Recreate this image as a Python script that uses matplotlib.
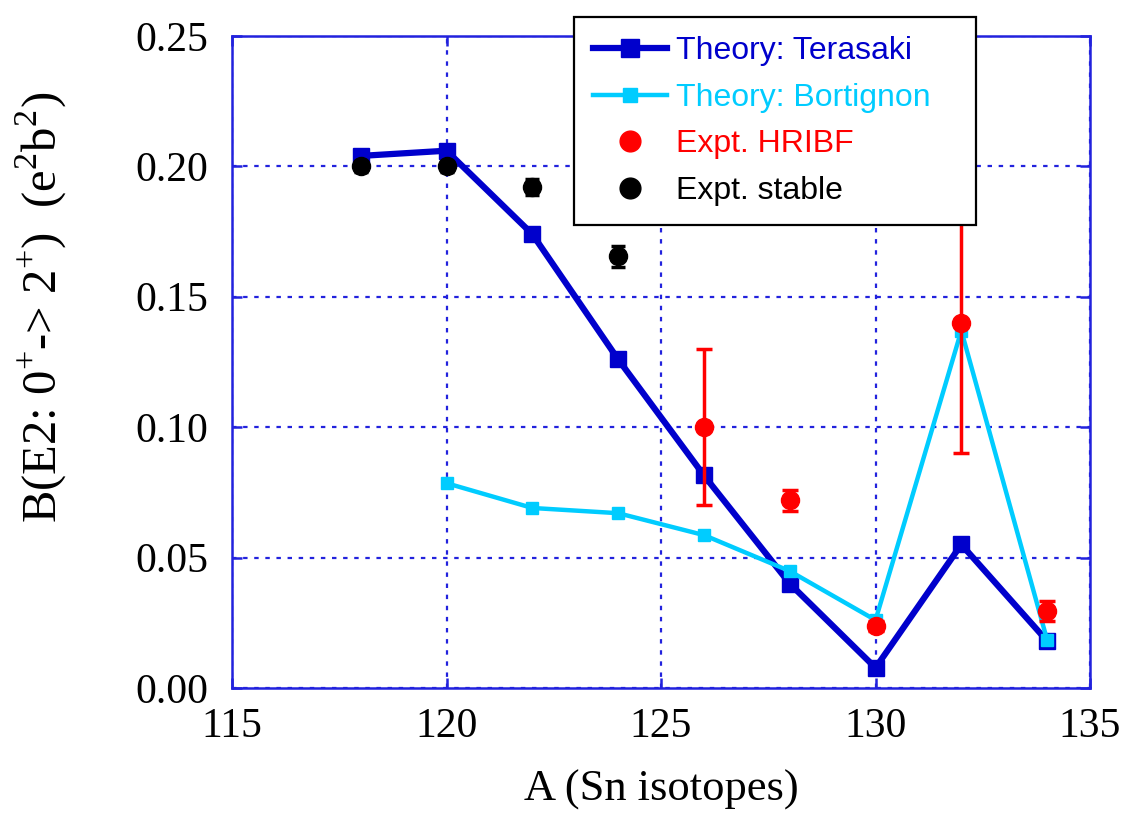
import matplotlib
matplotlib.use('Agg')
import matplotlib.pyplot as plt

plt.rcParams['mathtext.fontset'] = 'custom'
plt.rcParams['mathtext.rm'] = 'Liberation Serif'

# data
a_ter = [118, 120, 122, 124, 126, 128, 130, 132, 134]
b_ter = [0.204, 0.206, 0.174, 0.126, 0.0815, 0.040, 0.0077, 0.055, 0.018]

a_bor = [120, 122, 124, 126, 128, 130, 132, 134]
b_bor = [0.0785, 0.069, 0.067, 0.0586, 0.0448, 0.026, 0.137, 0.0184]

a_hribf = [126, 128, 130, 132, 134]
b_hribf = [0.100, 0.072, 0.0237, 0.140, 0.0295]
e_hribf = [0.030, 0.004, 0.002, 0.050, 0.004]

a_stable = [118, 120, 122, 124]
b_stable = [0.200, 0.200, 0.192, 0.1655]
e_stable = [0.002, 0.002, 0.003, 0.004]

xticks = [115, 120, 125, 130, 135]
yticks = [0.00, 0.05, 0.10, 0.15, 0.20, 0.25]

blue = '#0000cc'
cyan = '#00ccff'
frame = '#2222dd'

fig = plt.figure(figsize=(11.22, 8.17), dpi=100)
ax = fig.add_axes([0.2068, 0.158, 0.7647, 0.798])

ax.plot(a_ter, b_ter, '-s', color=blue, lw=4.5, ms=11, label='Theory: Terasaki', zorder=3)
ax.plot(a_bor, b_bor, '-s', color=cyan, lw=3.2, ms=8.5, label='Theory: Bortignon', zorder=3)

# error bars first, then the dots (legend shows dots only)
ax.errorbar(a_hribf, b_hribf, yerr=e_hribf, fmt='none', ecolor='red',
            elinewidth=2.5, capsize=6, capthick=2.5, zorder=4)
ax.errorbar(a_stable, b_stable, yerr=e_stable, fmt='none', ecolor='black',
            elinewidth=2.5, capsize=5, capthick=2.5, zorder=4)
ax.plot(a_hribf, b_hribf, 'o', color='red', ms=13, label='Expt. HRIBF', zorder=5)
ax.plot(a_stable, b_stable, 'o', color='black', ms=13, label='Expt. stable', zorder=5)

ax.set_xlim(115, 135)
ax.set_ylim(0, 0.25)
ax.set_xticks(xticks)
ax.set_yticks(yticks)
ax.set_xticklabels([str(t) for t in xticks])
ax.set_yticklabels(['%.2f' % t for t in yticks])

for s in ax.spines.values():
    s.set_color(frame)
    s.set_linewidth(1.8)
ax.tick_params(direction='in', length=7, width=1.8, color=frame,
               top=True, right=True, labelsize=30)
ax.tick_params(axis='y', pad=17)
ax.tick_params(axis='x', pad=14)
for lab in ax.get_xticklabels() + ax.get_yticklabels():
    lab.set_fontfamily('Liberation Serif')
ax.grid(True, color=frame, linestyle=(0, (2, 3)), linewidth=1.6)
ax.set_axisbelow(True)

ax.set_xlabel('A (Sn isotopes)', fontsize=32, family='Liberation Serif', labelpad=17)
ax.set_ylabel(r'B(E2: 0$^{+}$-> 2$^{+}$)  (e$^{2}$b$^{2}$)', fontsize=35,
              family='Liberation Serif')
ax.yaxis.set_label_coords(-0.19, 0.584)

leg = ax.legend(loc='upper left', bbox_to_anchor=(0.3986, 0.715, 0.4685, 0.314),
                mode='expand', borderaxespad=0,
                prop={'family': 'Liberation Sans', 'size': 23},
                frameon=True, fancybox=False, edgecolor='black', framealpha=1,
                borderpad=0.6, labelspacing=0.52, handlelength=2.3, handletextpad=0.3,
                markerscale=1.15)
leg.get_frame().set_linewidth(1.6)
leg.set_zorder(10)
for txt, c in zip(leg.get_texts(), [blue, cyan, 'red', 'black']):
    txt.set_color(c)

fig.savefig('out.png', dpi=100)
